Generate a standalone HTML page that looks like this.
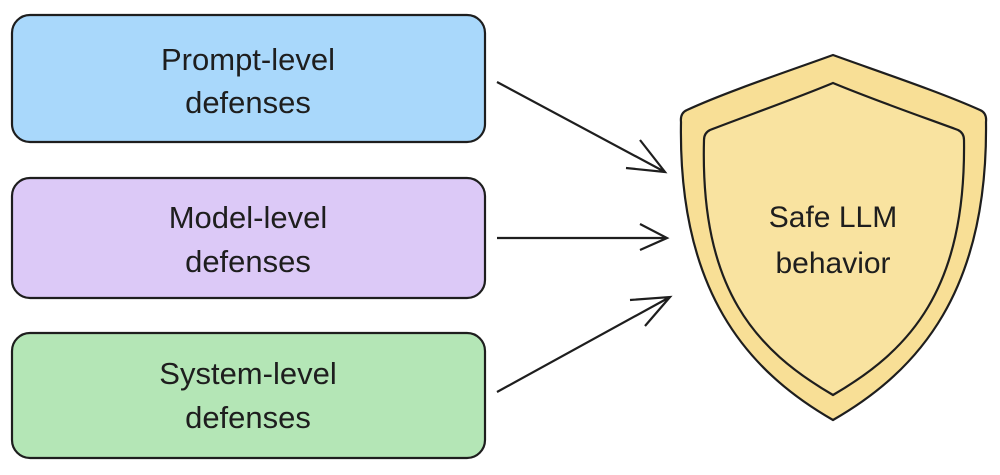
<!DOCTYPE html>
<html><head><style>
body{margin:0;width:1000px;height:470px;background:#fff;overflow:hidden}
</style></head><body>
<svg width="1000" height="470" viewBox="0 0 1000 470" xmlns="http://www.w3.org/2000/svg">
<g stroke="#1e1e1e" stroke-width="2.2" fill="none">
<rect x="12" y="15" width="473" height="127" rx="18" fill="#a9d8fb"/>
<rect x="12" y="178" width="473" height="120" rx="18" fill="#dcc9f7"/>
<rect x="12" y="333" width="473" height="125" rx="18" fill="#b4e6b6"/>
<path d="M833 55 C880 72 940 92 980 110 Q987 113 986 122 C988 290 920 370 833 420 C746 370 678 290 681 122 Q680 113 687 110 C726 92 786 72 833 55 Z" fill="#f8df96"/>
<path d="M833 83 C874 100 920 116 958 130 Q964 133 964 140 C966 290 910 350 833 395 C756 350 700 290 704 140 Q704 133 710 130 C746 116 792 100 833 83 Z" fill="#f9e3a0"/>
<path d="M497 82 L665 172 M640 140 L665 172 L626 168"/>
<path d="M497 238 L667 238 M640 224 L667 238 L640 250"/>
<path d="M497 392 L670 297 M630 300 L670 297 L645 326"/>
</g>
<g font-family="Liberation Sans, sans-serif" font-size="31" fill="#1e1e1e" text-anchor="middle">
<text x="248" y="70">Prompt-level</text>
<text x="248" y="113">defenses</text>
<text x="248" y="228">Model-level</text>
<text x="248" y="272">defenses</text>
<text x="248" y="384">System-level</text>
<text x="248" y="428">defenses</text>
<text x="833" y="227" font-size="30">Safe LLM</text>
<text x="833" y="273" font-size="30">behavior</text>
</g>
</svg>
</body></html>
